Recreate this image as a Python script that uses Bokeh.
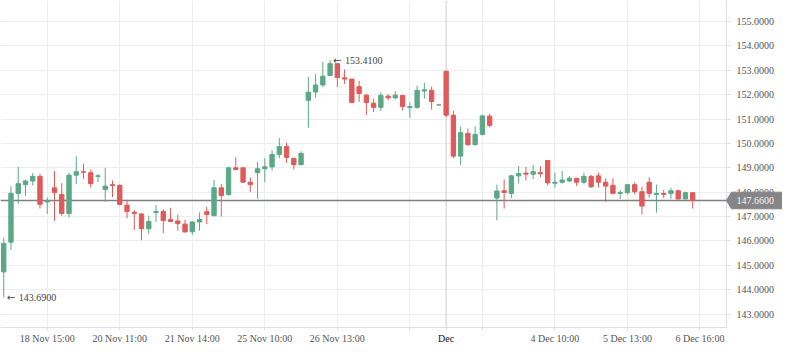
from bokeh.plotting import figure
from bokeh.models import (FixedTicker, PrintfTickFormatter, Span, Label, ColumnDataSource,
                          Range1d, LinearAxis, Grid)
from bokeh.core.properties import value
from bokeh.embed import file_html
from bokeh.resources import INLINE

opens = [
    144.73, 145.95, 147.95, 148.31, 148.46, 148.65, 147.60, 148.18, 147.91, 147.13,
    148.70, 148.84, 148.80, 148.65, 148.11, 148.31, 148.28, 147.47, 147.18, 147.11,
    146.50, 147.17, 147.21, 146.88, 146.82, 146.69, 146.38, 146.78, 147.20, 147.04,
    148.18, 147.91, 149.00, 149.00, 148.41, 148.80, 148.96, 149.04, 149.55, 149.87,
    149.39, 149.13, 151.77, 152.11, 152.40, 152.79, 153.27, 152.69, 152.64, 152.33,
    151.98, 151.65, 151.48, 151.94, 151.87, 151.97, 151.47, 151.48, 152.15, 152.18,
    151.58, 152.96, 151.16, 149.48, 150.41, 149.95, 150.37, 151.12, 147.76, 148.06,
    147.95, 148.67, 148.78, 148.74, 148.80, 149.30, 148.37, 148.41, 148.46, 148.57,
    148.41, 148.65, 148.67, 148.41, 148.28, 147.95, 147.98, 148.31, 148.02, 148.41,
    147.91, 147.95, 147.95, 148.06, 147.72, 147.98]
highs = [
    146.13, 148.25, 149.04, 148.52, 148.78, 148.76, 147.78, 148.87, 148.37, 148.80,
    149.48, 149.16, 148.93, 148.74, 149.00, 148.48, 148.32, 147.69, 147.27, 147.13,
    147.04, 147.47, 147.30, 147.36, 147.08, 146.87, 146.80, 147.17, 147.40, 148.50,
    148.33, 149.02, 149.43, 149.00, 148.61, 149.24, 149.39, 149.72, 150.22, 150.03,
    149.39, 149.68, 152.73, 152.85, 153.35, 153.41, 153.27, 153.03, 152.64, 152.57,
    152.03, 151.84, 152.10, 152.03, 152.14, 151.97, 151.68, 152.37, 152.49, 152.33,
    151.58, 152.99, 151.35, 150.70, 150.61, 150.70, 151.18, 151.22, 148.31, 148.52,
    148.71, 149.07, 149.04, 149.11, 149.07, 149.30, 148.80, 148.87, 148.67, 148.57,
    148.80, 148.71, 148.80, 148.57, 148.57, 148.09, 148.31, 148.41, 148.22, 148.61,
    148.31, 148.09, 148.18, 148.09, 148.02, 147.98]
lows = [
    143.69, 145.63, 147.52, 147.85, 148.28, 147.33, 147.11, 146.82, 147.04, 146.97,
    148.33, 148.54, 148.19, 148.41, 147.60, 147.80, 147.46, 146.93, 146.45, 146.03,
    146.29, 146.79, 146.32, 146.79, 146.42, 146.34, 146.25, 146.42, 146.69, 147.00,
    147.00, 147.86, 148.89, 148.41, 148.00, 147.73, 148.41, 148.89, 149.39, 149.20,
    148.93, 149.09, 150.64, 151.87, 152.31, 152.76, 152.31, 152.44, 151.66, 151.71,
    151.16, 151.29, 151.33, 151.77, 151.81, 151.35, 151.05, 151.42, 151.84, 151.39,
    151.58, 151.09, 149.39, 149.13, 149.91, 149.91, 150.33, 150.66, 146.84, 147.33,
    147.76, 148.35, 148.48, 148.54, 148.61, 148.28, 148.19, 148.35, 148.41, 148.25,
    148.32, 148.18, 148.19, 147.60, 147.93, 147.72, 147.91, 147.91, 147.08, 147.78,
    147.16, 147.76, 147.73, 147.72, 147.72, 147.33]
closes = [
    145.90, 147.95, 148.35, 148.46, 148.65, 147.50, 147.65, 147.99, 147.13, 148.70,
    148.84, 148.82, 148.35, 148.67, 148.25, 148.27, 147.50, 147.21, 147.13, 146.50,
    146.80, 147.21, 146.84, 146.80, 146.71, 146.37, 146.78, 146.88, 147.09, 148.18,
    147.86, 149.00, 148.93, 148.41, 148.31, 148.96, 149.04, 149.55, 149.87, 149.43,
    149.13, 149.59, 152.10, 152.40, 152.76, 153.27, 152.70, 152.64, 151.68, 152.05,
    151.68, 151.48, 151.97, 151.87, 151.98, 151.52, 151.51, 152.18, 152.20, 151.72,
    151.58, 151.16, 149.48, 150.44, 149.95, 150.37, 151.13, 150.74, 148.05, 147.99,
    148.67, 148.76, 148.74, 148.84, 148.76, 148.38, 148.41, 148.50, 148.57, 148.41,
    148.65, 148.22, 148.41, 148.25, 147.95, 147.99, 148.31, 148.02, 147.43, 147.95,
    147.95, 147.91, 148.06, 147.72, 147.98, 147.66]

tick_pos = [6, 16, 26, 36, 46, 56, 61, 66, 76, 86, 96]
tick_labels = ["18 Nov 15:00", "20 Nov 11:00", "21 Nov 14:00", "25 Nov 10:00",
               "26 Nov 13:00", "", "Dec", "", "4 Dec 10:00", "5 Dec 13:00", "6 Dec 16:00"]
grid_pos = [6, 16, 26, 36, 46, 56, 66, 76, 86, 96]
month_pos = 61
month_label = "Dec"
y_ticks = [143, 144, 145, 146, 147, 148, 149, 150, 151, 152, 153, 154, 155]

assert len(opens) == len(highs) == len(lows) == len(closes) == 96

GREEN = "#5aa886"
RED = "#e05a5a"
GRAY = "#8a8a8a"
FONT = "Liberation Serif"
AXIS_COL = "#dcdfe4"
GRID_COL = "#eceef1"

W, H = 782, 347
x_start, x_end = -0.445, 107.38      # frame spans whole canvas
y_start, y_end = 141.63, 155.863
axis_x = 99.65                        # price-axis line position
axis_y = 142.45                       # time-axis line position
dx = (x_end - x_start) / W            # one pixel in data units
dy = (y_end - y_start) / H

idx = list(range(len(opens)))
colors = [GREEN if c > o else (RED if c < o else GRAY) for o, c in zip(opens, closes)]
src = ColumnDataSource(dict(
    x=idx, o=opens, h=highs, l=lows, c=closes,
    top=[max(o, c) for o, c in zip(opens, closes)],
    bot=[min(o, c) for o, c in zip(opens, closes)],
    color=colors))

p = figure(width=W, height=H, x_range=Range1d(x_start, x_end), y_range=Range1d(y_start, y_end),
           x_axis_location=None, y_axis_location=None,
           toolbar_location=None, output_backend="svg",
           min_border_left=0, min_border_top=0, min_border_right=0, min_border_bottom=0,
           background_fill_color="white", border_fill_color="white", outline_line_color=None)
p.grid.visible = False

p.add_layout(Grid(dimension=0, ticker=FixedTicker(ticks=grid_pos), grid_line_color=GRID_COL))
p.add_layout(Grid(dimension=1, ticker=FixedTicker(ticks=y_ticks), grid_line_color=GRID_COL))

# month separator and last price line
p.add_layout(Span(location=month_pos, dimension="height", line_color="#c9cdd2", line_width=1, level="underlay"))
p.add_layout(Span(location=closes[-1], dimension="width", line_color="#808080", line_width=1.5, level="underlay"))

# blank out axis areas
p.quad(left=[axis_x], right=[x_end], bottom=[y_start], top=[y_end], fill_color="white", line_color=None)
p.quad(left=[x_start], right=[x_end], bottom=[y_start], top=[axis_y], fill_color="white", line_color=None)

# candles
p.segment(x0="x", y0="l", x1="x", y1="h", source=src, line_color="color", line_width=1)
p.vbar(x="x", width=0.6, top="top", bottom="bot", source=src, fill_color="color", line_color="color", line_width=1)

# axes
xaxis = LinearAxis(ticker=FixedTicker(ticks=tick_pos), fixed_location=axis_y, bounds=(x_start, axis_x))
xaxis.major_label_overrides = {t: (lab if t != month_pos else "") for t, lab in zip(tick_pos, tick_labels)}
yaxis = LinearAxis(ticker=FixedTicker(ticks=y_ticks), fixed_location=axis_x, bounds=(axis_y, y_end),
                   formatter=PrintfTickFormatter(format="%.4f"))
for ax in (xaxis, yaxis):
    ax.axis_line_color = AXIS_COL
    ax.major_tick_line_color = AXIS_COL
    ax.minor_tick_line_color = None
    ax.major_tick_in = 0
    ax.major_label_text_font = FONT
    ax.major_label_text_font_size = "10px"
    ax.major_label_text_color = "#555555"
yaxis.major_tick_out = 4
yaxis.major_label_standoff = 6
xaxis.major_tick_out = 3
xaxis.major_label_standoff = 2
p.add_layout(xaxis, "below")
p.add_layout(yaxis, "right")

# month label (darker)
p.text(x=[month_pos], y=[axis_y], text=[month_label], y_offset=11,
       text_font=value(FONT), text_font_size="10px", text_color="#111111",
       text_baseline="middle", text_align="center")

# last price tag (drawn above the price axis labels)
price = closes[-1]
p.patch(x=[axis_x, axis_x + 5 * dx, x_end, x_end, axis_x + 5 * dx],
        y=[price, price + 8.3 * dy, price + 8.3 * dy, price - 8.3 * dy, price - 8.3 * dy],
        fill_color="#858585", line_color="#858585", level="overlay")
p.text(x=[axis_x], y=[price], text=["%.4f" % price], x_offset=10,
       text_font=value(FONT), text_font_size="10px", text_color="#f4f4f4",
       text_baseline="middle", text_align="left", level="overlay")

# min / max annotations
imin = lows.index(min(lows))
imax = highs.index(max(highs))
for i, v in ((imin, lows[imin]), (imax, highs[imax])):
    p.add_layout(Label(x=i, y=v, x_offset=3, text="\u2190", text_font="DejaVu Sans",
                       text_font_size="10px", text_color="#444444",
                       text_baseline="middle", text_align="left"))
    p.add_layout(Label(x=i, y=v, x_offset=15, text="%.4f" % v,
                       text_font=FONT, text_font_size="10px", text_color="#444444",
                       text_baseline="middle", text_align="left"))

open("out.html", "w").write(file_html(p, INLINE))
